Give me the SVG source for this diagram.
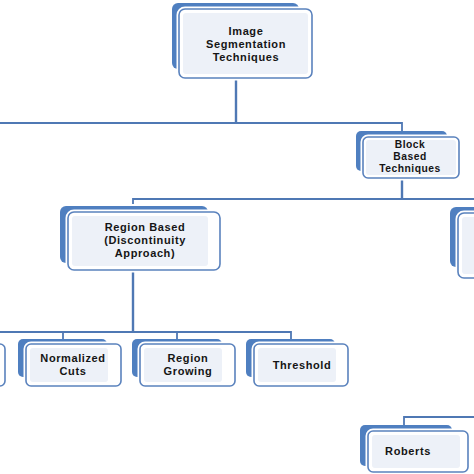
<svg xmlns="http://www.w3.org/2000/svg" width="474" height="474" viewBox="0 0 474 474">
<style>
.back{fill:#4f7fc0;}
.halo{fill:none;stroke:#ffffff;stroke-width:5;}
.front{fill:#ffffff;stroke:#5a82bd;stroke-width:1.6;}
.inner{fill:#edf1f8;}
.wire{fill:none;stroke:#4f78b4;stroke-width:1.8;}
.main{stroke-width:2.4;}
text{font-family:"Liberation Sans",Arial,sans-serif;font-weight:bold;font-size:11px;letter-spacing:0.6px;fill:#151515;text-anchor:middle;}
.sm{font-size:10.3px;letter-spacing:0.5px;}
</style>
<rect width="474" height="474" fill="#ffffff"/>
<g id="connectors">
<path class="wire main" d="M236 78 V123"/>
<path class="wire" d="M0 123 H402 V131"/>
<path class="wire main" d="M402 178 V199"/>
<path class="wire" d="M133 204 V199 H474"/>
<path class="wire main" d="M133 270 V332"/>
<path class="wire" d="M0 332 H291 V339"/>
<path class="wire" d="M63 332 V339"/>
<path class="wire" d="M177 332 V339"/>
<path class="wire" d="M404 425 V417 H474"/>
</g>
<g id="n_root">
<rect class="back" x="172" y="3" width="127" height="66" rx="6"/>
<rect class="halo" x="179" y="9" width="133" height="69" rx="6"/>
<rect class="front" x="179" y="9" width="133" height="69" rx="6"/>
<rect class="inner" x="183" y="13" width="125" height="61" rx="3"/>
<text x="246" y="35">Image</text>
<text x="246" y="48">Segmentation</text>
<text x="246" y="61">Techniques</text>
</g>
<g id="n_block">
<rect class="back" x="356" y="131" width="91" height="40" rx="5"/>
<rect class="halo" x="363" y="137" width="96" height="41" rx="5"/>
<rect class="front" x="363" y="137" width="96" height="41" rx="5"/>
<rect class="inner" x="366" y="140" width="90" height="35" rx="3"/>
<text class="sm" x="410" y="148">Block</text>
<text class="sm" x="410" y="160">Based</text>
<text class="sm" x="410" y="172">Techniques</text>
</g>
<g id="n_region">
<rect class="back" x="60" y="206" width="148" height="57" rx="6"/>
<rect class="halo" x="68" y="212" width="152" height="58" rx="6"/>
<rect class="front" x="68" y="212" width="152" height="58" rx="6"/>
<rect class="inner" x="72" y="216" width="136" height="50" rx="3"/>
<text x="145" y="231">Region Based</text>
<text x="145" y="244">(Discontinuity</text>
<text x="145" y="257">Approach)</text>
</g>
<g id="n_right">
<rect class="back" x="450" y="207" width="40" height="60" rx="6"/>
<rect class="halo" x="458" y="213" width="40" height="65" rx="6"/>
<rect class="front" x="458" y="213" width="40" height="65" rx="6"/>
<rect class="inner" x="462" y="217" width="30" height="57" rx="3"/>
</g>
<g id="n_left">
<rect class="back" x="-96" y="339" width="89" height="38" rx="5"/>
<rect class="halo" x="-88" y="344" width="93" height="42" rx="5"/>
<rect class="front" x="-88" y="344" width="93" height="42" rx="5"/>
</g>
<g id="n_ncuts">
<rect class="back" x="18" y="339" width="89" height="38" rx="5"/>
<rect class="halo" x="26" y="344" width="95" height="42" rx="5"/>
<rect class="front" x="26" y="344" width="95" height="42" rx="5"/>
<rect class="inner" x="30" y="348" width="78" height="34" rx="3"/>
<text x="73" y="362">Normalized</text>
<text x="73" y="375">Cuts</text>
</g>
<g id="n_growing">
<rect class="back" x="132" y="339" width="90" height="38" rx="5"/>
<rect class="halo" x="140" y="344" width="95" height="42" rx="5"/>
<rect class="front" x="140" y="344" width="95" height="42" rx="5"/>
<rect class="inner" x="144" y="348" width="78" height="34" rx="3"/>
<text x="188" y="362">Region</text>
<text x="188" y="375">Growing</text>
</g>
<g id="n_threshold">
<rect class="back" x="246" y="339" width="89" height="38" rx="5"/>
<rect class="halo" x="254" y="344" width="94" height="42" rx="5"/>
<rect class="front" x="254" y="344" width="94" height="42" rx="5"/>
<rect class="inner" x="258" y="348" width="78" height="34" rx="3"/>
<text x="302" y="369">Threshold</text>
</g>
<g id="n_roberts">
<rect class="back" x="360" y="425" width="92" height="41" rx="5"/>
<rect class="halo" x="368" y="431" width="100" height="41" rx="5"/>
<rect class="front" x="368" y="431" width="100" height="41" rx="5"/>
<rect class="inner" x="372" y="435" width="88" height="33" rx="3"/>
<text x="408" y="455">Roberts</text>
</g>
</svg>
